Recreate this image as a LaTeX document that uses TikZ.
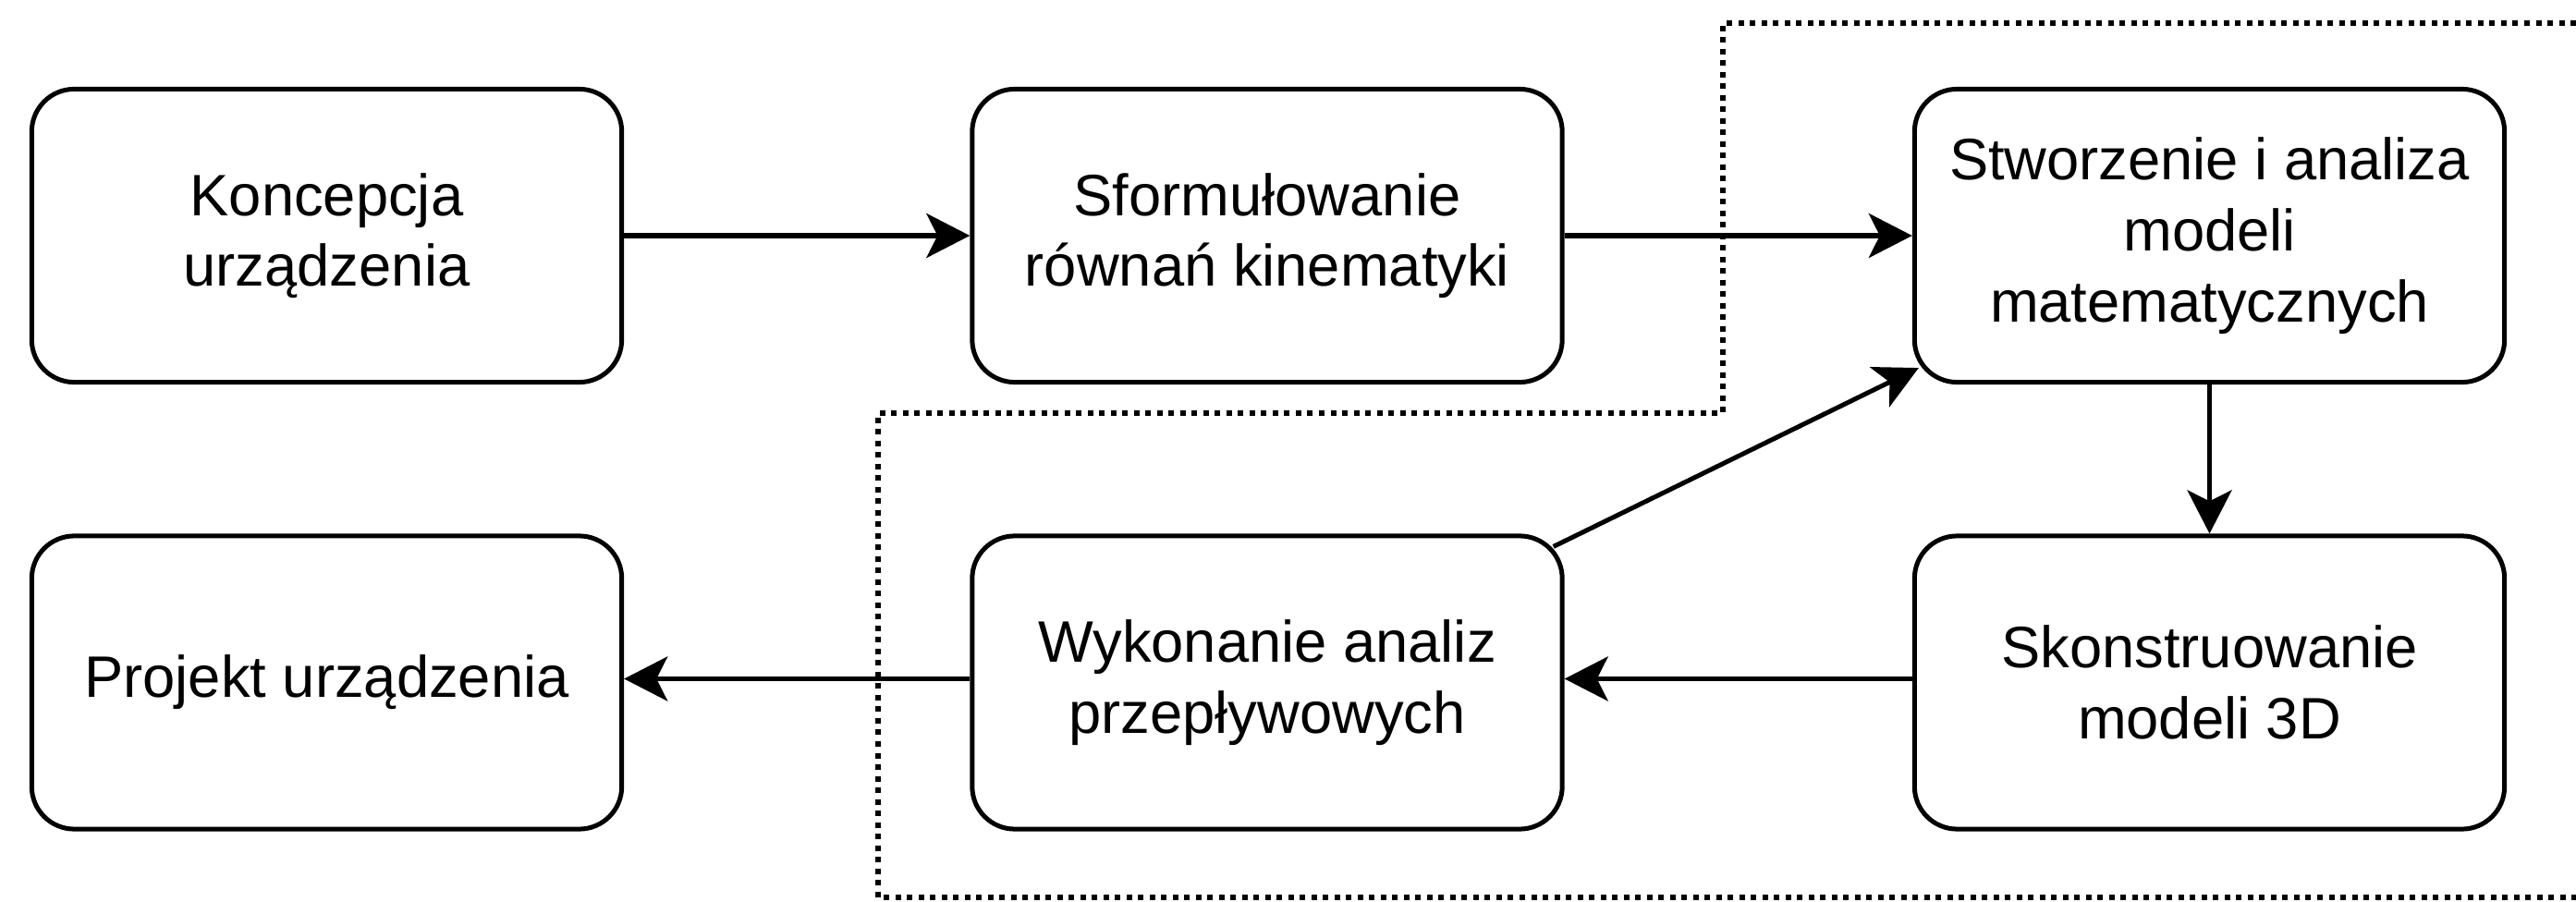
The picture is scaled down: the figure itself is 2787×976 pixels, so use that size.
\documentclass[tikz,border=0pt]{standalone}
\usepackage{fontspec}
\setmainfont{Liberation Sans}
\usetikzlibrary{arrows.meta}
\begin{document}
\begin{tikzpicture}[x=0.01cm,y=-0.01cm,
  box/.style={draw, line width=0.05cm, rounded corners=0.46cm, minimum width=6.38cm, minimum height=3.17cm, align=center, inner sep=0pt, font=\fontsize{18}{21.8}\selectfont},
  link/.style={line width=0.05cm, -{Stealth[length=0.47cm, width=0.48cm, inset=0.12cm]}},
  grp/.style={line width=0.055cm, dash pattern=on 0.06cm off 0.065cm}]
\useasboundingbox (0,0) rectangle (2787,976);
\node[box] (k) at (353.5,255) {Koncepcja\\urządzenia};
\node[box] (s) at (1371,255) {Sformułowanie\\równań kinematyki};
\node[box] (m) at (2390.5,255) {Stworzenie i analiza\\modeli\\matematycznych};
\node[box] (p) at (353.5,738.5) {Projekt urządzenia};
\node[box] (w) at (1371,738.5) {Wykonanie analiz\\przepływowych};
\node[box] (sk) at (2390.5,738.5) {Skonstruowanie\\modeli 3D};
\draw[link] (k) -- (s);
\draw[link] (s) -- (m);
\draw[link] (m) -- (sk);
\draw[link] ([yshift=0.04cm]sk.west) -- ([yshift=0.04cm]w.east);
\draw[link] ([yshift=0.04cm]w.west) -- ([yshift=0.04cm]p.east);
\draw[link] ([xshift=-0.12cm,yshift=-0.14cm]w.north east) -- ([xshift=0.07cm,yshift=0.18cm]m.south west);
\coordinate (g1) at (2787,25);
\coordinate (g2) at (1864,25);
\coordinate (g3) at (1864,447);
\coordinate (g4) at (950,447);
\coordinate (g5) at (950,971);
\coordinate (g6) at (2787,971);
\draw[grp] (g1) -- (g2) -- (g3) -- (g4) -- (g5) -- (g6);
\end{tikzpicture}
\end{document}
